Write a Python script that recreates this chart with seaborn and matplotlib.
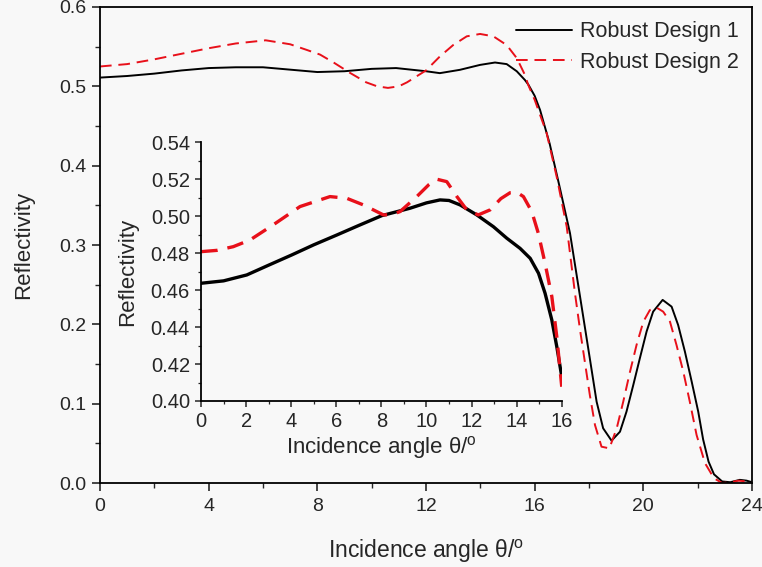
import numpy as np
import pandas as pd
import seaborn as sns
import matplotlib.pyplot as plt
from matplotlib.ticker import MultipleLocator, FormatStrFormatter

# main curves
design1_x = [0, 1, 2, 3, 4, 5, 6, 7, 8, 9, 10, 10.9, 12, 12.51, 13.25, 13.99, 14.54, 14.97,
             15.34, 15.64, 15.77, 16.0, 16.2, 16.55, 16.9, 17.3, 17.67, 18.03, 18.28, 18.52,
             18.83, 19.14, 19.38, 19.63, 19.87, 20.12, 20.36, 20.71, 21.04, 21.28, 21.53,
             21.78, 22.02, 22.2, 22.4, 22.6, 22.9, 23.2, 23.55, 23.8, 24]
design1_y = [0.511, 0.513, 0.516, 0.520, 0.523, 0.524, 0.524, 0.521, 0.518, 0.519, 0.522,
             0.523, 0.519, 0.5166, 0.5208, 0.527, 0.530, 0.528, 0.519, 0.508, 0.502, 0.488,
             0.470, 0.428, 0.376, 0.315, 0.235, 0.157, 0.1025, 0.069, 0.0534, 0.0647, 0.090,
             0.1236, 0.157, 0.191, 0.216, 0.2308, 0.2223, 0.1992, 0.1656, 0.1277, 0.090,
             0.055, 0.027, 0.011, 0.002, 0.001, 0.004, 0.003, 0.001]

design2_x = [0, 1, 2, 3, 4, 5, 6.1, 7, 7.6, 8.1, 8.6, 9.2, 9.8, 10.2, 10.6, 11.0, 11.3, 12.0,
             12.51, 13.0, 13.5, 13.99, 14.48, 14.97, 15.34, 15.64, 15.76, 16.0, 16.44, 16.81,
             17.18, 17.48, 17.67, 18.03, 18.22, 18.46, 18.75, 19.02, 19.26, 19.51, 19.75,
             20.0, 20.24, 20.49, 20.73, 20.98, 21.22, 21.47, 21.71, 21.96, 22.27, 22.6, 22.9,
             23.2, 23.5, 23.8, 24]
design2_y = [0.525, 0.528, 0.534, 0.541, 0.548, 0.554, 0.558, 0.553, 0.546, 0.540, 0.530,
             0.517, 0.505, 0.500, 0.498, 0.500, 0.505, 0.520, 0.5376, 0.552, 0.563, 0.566,
             0.563, 0.552, 0.5356, 0.5145, 0.502, 0.483, 0.441, 0.386, 0.323, 0.240, 0.193,
             0.111, 0.0731, 0.0458, 0.0437, 0.069, 0.1025, 0.1404, 0.174, 0.2034, 0.218,
             0.221, 0.216, 0.2034, 0.174, 0.1404, 0.1025, 0.0605, 0.025, 0.006, 0.0, 0.001,
             0.003, 0.002, 0.001]

# inset curves
in1_x = [0, 1, 2.03, 3, 4.02, 5, 6.02, 7, 8.02, 9.27, 10.0, 10.6, 11.0, 11.49, 12.23,
         12.97, 13.56, 14.15, 14.6, 14.97, 15.26, 15.56, 15.78, 16]
in1_y = [0.4637, 0.4650, 0.4682, 0.4735, 0.4790, 0.4845, 0.4898, 0.4950, 0.5003, 0.5043,
         0.5072, 0.5088, 0.5085, 0.5061, 0.5007, 0.4943, 0.4881, 0.4826, 0.4772, 0.4691,
         0.4583, 0.4438, 0.4294, 0.4132]

in2_x = [0, 0.7, 1.43, 2.17, 3.2, 4.39, 5.72, 6.46, 7.2, 8.09, 8.45, 8.83, 9.57, 10.1,
         10.46, 10.9, 11.35, 11.79, 12.3, 12.82, 13.3, 13.71, 14.0, 14.3, 14.67, 14.96,
         15.26, 15.56, 15.78, 16]
in2_y = [0.4808, 0.4815, 0.4835, 0.4871, 0.4953, 0.5052, 0.5106, 0.5097, 0.5061, 0.5007,
         0.5008, 0.5025, 0.5106, 0.5170, 0.5200, 0.5187, 0.5106, 0.5034, 0.5007, 0.5034,
         0.5095, 0.5127, 0.5130, 0.5106, 0.5025, 0.4908, 0.4745, 0.4565, 0.4348, 0.4077]

sns.set_style("ticks")
plt.rcParams['font.family'] = ['Liberation Sans', 'DejaVu Sans']
plt.rcParams['mathtext.fontset'] = 'custom'
plt.rcParams['mathtext.rm'] = 'Liberation Sans'

bg = '#f8f8f8'
fig = plt.figure(figsize=(7.62, 5.67), dpi=100, facecolor=bg)
ax = fig.add_axes([0.1312, 0.1481, 0.8557, 0.8396], facecolor=bg)

sns.lineplot(x=design1_x, y=design1_y, ax=ax, color='black', linewidth=1.4,
             label='Robust Design 1')
sns.lineplot(x=design2_x, y=design2_y, ax=ax, color='#e8101a', linewidth=1.4,
             linestyle=(0, (6, 3.5)), label='Robust Design 2')

ax.set_xlim(0, 24)
ax.set_ylim(0, 0.6)
ax.xaxis.set_major_locator(MultipleLocator(4))
ax.xaxis.set_minor_locator(MultipleLocator(2))
ax.yaxis.set_major_locator(MultipleLocator(0.1))
ax.yaxis.set_minor_locator(MultipleLocator(0.05))
ax.yaxis.set_major_formatter(FormatStrFormatter('%.1f'))
ax.tick_params(which='major', direction='out', length=6, width=1.2, labelsize=14)
ax.tick_params(axis='x', which='major', pad=5)
ax.tick_params(which='minor', direction='out', length=3.5, width=1.0)
for s in ax.spines.values():
    s.set_linewidth(1.3)
    s.set_color('black')
ax.set_xlabel('Incidence angle θ/$^\\mathregular{o}$', fontsize=16.5, labelpad=16)
ax.set_ylabel('Reflectivity', fontsize=16, labelpad=18)

leg = ax.legend(loc='upper right', frameon=False, fontsize=15.5, handlelength=2.6,
                handletextpad=0.4, borderaxespad=0.2, labelspacing=0.45,
                bbox_to_anchor=(1.0, 0.997))

# inset
ins = fig.add_axes([0.2638, 0.2928, 0.4734, 0.4563], facecolor='none')
sns.lineplot(x=in1_x, y=in1_y, ax=ins, color='black', linewidth=2.4, legend=False)
sns.lineplot(x=in2_x, y=in2_y, ax=ins, color='#e8101a', linewidth=2.4,
             linestyle=(0, (5, 3)), legend=False)
ins.set_xlim(0, 16)
ins.set_ylim(0.40, 0.54)
ins.xaxis.set_major_locator(MultipleLocator(2))
ins.xaxis.set_minor_locator(MultipleLocator(1))
ins.yaxis.set_major_locator(MultipleLocator(0.02))
ins.yaxis.set_minor_locator(MultipleLocator(0.01))
ins.yaxis.set_major_formatter(FormatStrFormatter('%.2f'))
ins.spines['top'].set_visible(False)
ins.spines['right'].set_visible(False)
for s in ['left', 'bottom']:
    ins.spines[s].set_linewidth(1.3)
    ins.spines[s].set_color('black')
ins.tick_params(which='major', direction='out', length=4.5, width=1.1, labelsize=14.5)
ins.tick_params(which='minor', direction='out', length=2.5, width=0.9)
ins.set_xlabel('Incidence angle θ/$^\\mathregular{o}$', fontsize=16, labelpad=2)
ins.set_ylabel('Reflectivity', fontsize=16, labelpad=9)

plt.savefig('out.png', dpi=100, facecolor=bg)
